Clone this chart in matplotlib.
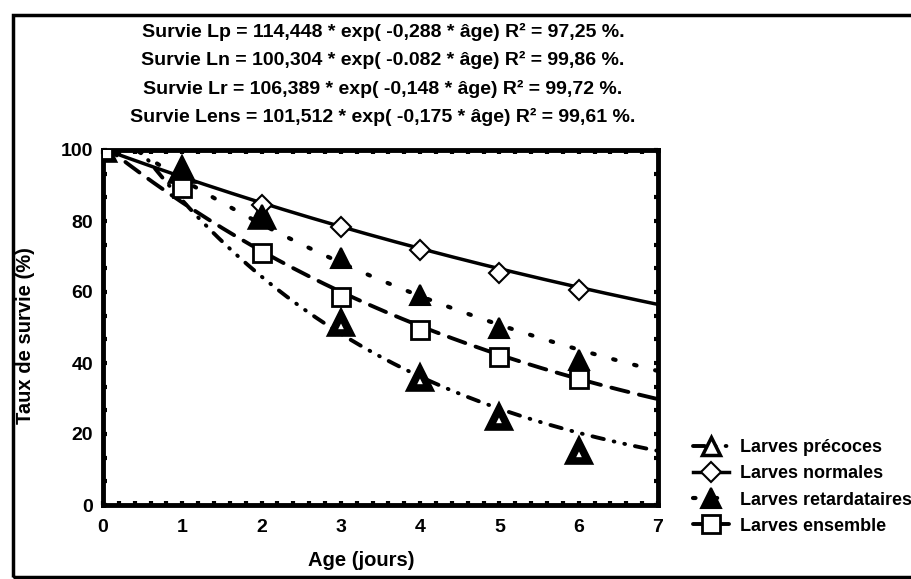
import numpy as np
import matplotlib.pyplot as plt
from matplotlib.lines import Line2D
from matplotlib.patches import Rectangle
from matplotlib.ticker import MultipleLocator

plt.rcParams['font.family'] = ['Liberation Sans', 'DejaVu Sans']
plt.rcParams['font.weight'] = 'bold'

# observed survival (%) per age (days)
age = [0, 1, 2, 3, 4, 5, 6]
precoces = [100, 94, 81, 51, 35.5, 24.5, 15]
normales = [100, 92, 84.5, 78.3, 71.8, 65.4, 60.6]
retard = [100, 94.5, 81.7, 69.6, 59.2, 49.9, 40.8]
ensemble = [100, 89.3, 71, 58.6, 49.3, 41.7, 35.5]

# exponential fits shown in the title: survie = a * exp(b * age)
fit_a = [114.448, 100.304, 106.389, 101.512]
fit_b = [-0.288, -0.082, -0.148, -0.175]
titles = [
    "Survie Lp = 114,448 * exp( -0,288 * âge) R² = 97,25 %.",
    "Survie Ln = 100,304 * exp( -0.082 * âge) R² = 99,86 %.",
    "Survie Lr = 106,389 * exp( -0,148 * âge) R² = 99,72 %.",
    "Survie Lens = 101,512 * exp( -0,175 * âge) R² = 99,61 %.",
]
labels = ["Larves précoces", "Larves normales", "Larves retardataires", "Larves ensemble"]

W, H = 912, 579
fig = plt.figure(figsize=(W / 100, H / 100), dpi=100)
ax = fig.add_axes([103 / W, 1 - 505 / H, 555 / W, 355 / H])

# outer frame (scan border)
fig.patches.append(Rectangle((13 / W, 1 - 577 / H), 1.2, (577 - 15) / H,
                             transform=fig.transFigure, fill=False,
                             lw=2.5, ec='black', zorder=0))

xs = np.linspace(0, 7, 400)
styles = [
    dict(ls=(0, (3, 2.6, 0.2, 2.6, 0.2, 2.6)), lw=2.8, dash_capstyle='round'),
    dict(ls='-', lw=2.5),
    dict(ls=(0, (0.6, 4.6)), lw=3.0, dash_capstyle='round'),
    dict(ls=(0, (4.5, 2.8)), lw=2.8, dash_capstyle='round'),
]
for a, b, st in zip(fit_a, fit_b, styles):
    ax.plot(xs, a * np.exp(b * xs), color='black', zorder=2, **st)

marks = [
    dict(marker='^', ms=12.5, mfc='white', mec='black', mew=5.5),
    dict(marker='D', ms=10.5, mfc='white', mec='black', mew=1.5),
    dict(marker='^', ms=15, mfc='black', mec='black', mew=1.5),
    dict(marker='s', ms=13, mfc='white', mec='black', mew=2.0),
]
series = [precoces, normales, retard, ensemble]
for vals, mk in zip(series, marks):
    ax.plot(age, vals, ls='none', zorder=3, **mk)

ax.set_xlim(0, 7)
ax.set_ylim(0, 100)
ax.xaxis.set_major_locator(MultipleLocator(1))
ax.xaxis.set_minor_locator(MultipleLocator(0.2))
ax.yaxis.set_major_locator(MultipleLocator(20))
ax.yaxis.set_minor_locator(MultipleLocator(20 / 3))
ax.tick_params(which='both', direction='in', top=True, right=True,
               length=3, width=3)
ax.tick_params(which='major', labelsize=14)
ax.tick_params(axis='y', which='major', pad=7)
ax.tick_params(axis='x', which='major', pad=10)
for s in ax.spines.values():
    s.set_linewidth(3.5)
for lab in ax.get_xticklabels() + ax.get_yticklabels():
    lab.set_fontweight('bold')

ax.set_xlabel("Age (jours)", fontsize=14.5, fontweight='bold')
ax.xaxis.set_label_coords(0.465, -0.13)
ax.set_ylabel("Taux de survie (%)", fontsize=14.5, fontweight='bold')
ax.yaxis.set_label_coords(-0.123, 0.476)

for i, t in enumerate(titles):
    fig.text(383 / W, 1 - (32 + 28.3 * i) / H, t, ha='center', va='center',
             fontsize=14, fontweight='bold')

leg_marks = [dict(mk) for mk in marks]
leg_marks[0]['mew'] = 2.5
leg_marks[0]['ms'] = 13
handles = [Line2D([], [], color='black', **st, **mk) for st, mk in zip(styles, leg_marks)]
fig.legend(handles, labels, loc='center left',
           bbox_to_anchor=(684 / W, 1 - 487 / H), frameon=False,
           handlelength=2.0, handletextpad=0.6,
           labelspacing=0.5, borderpad=0, prop=dict(weight='bold', size=13))

fig.savefig("out.png", dpi=100)
